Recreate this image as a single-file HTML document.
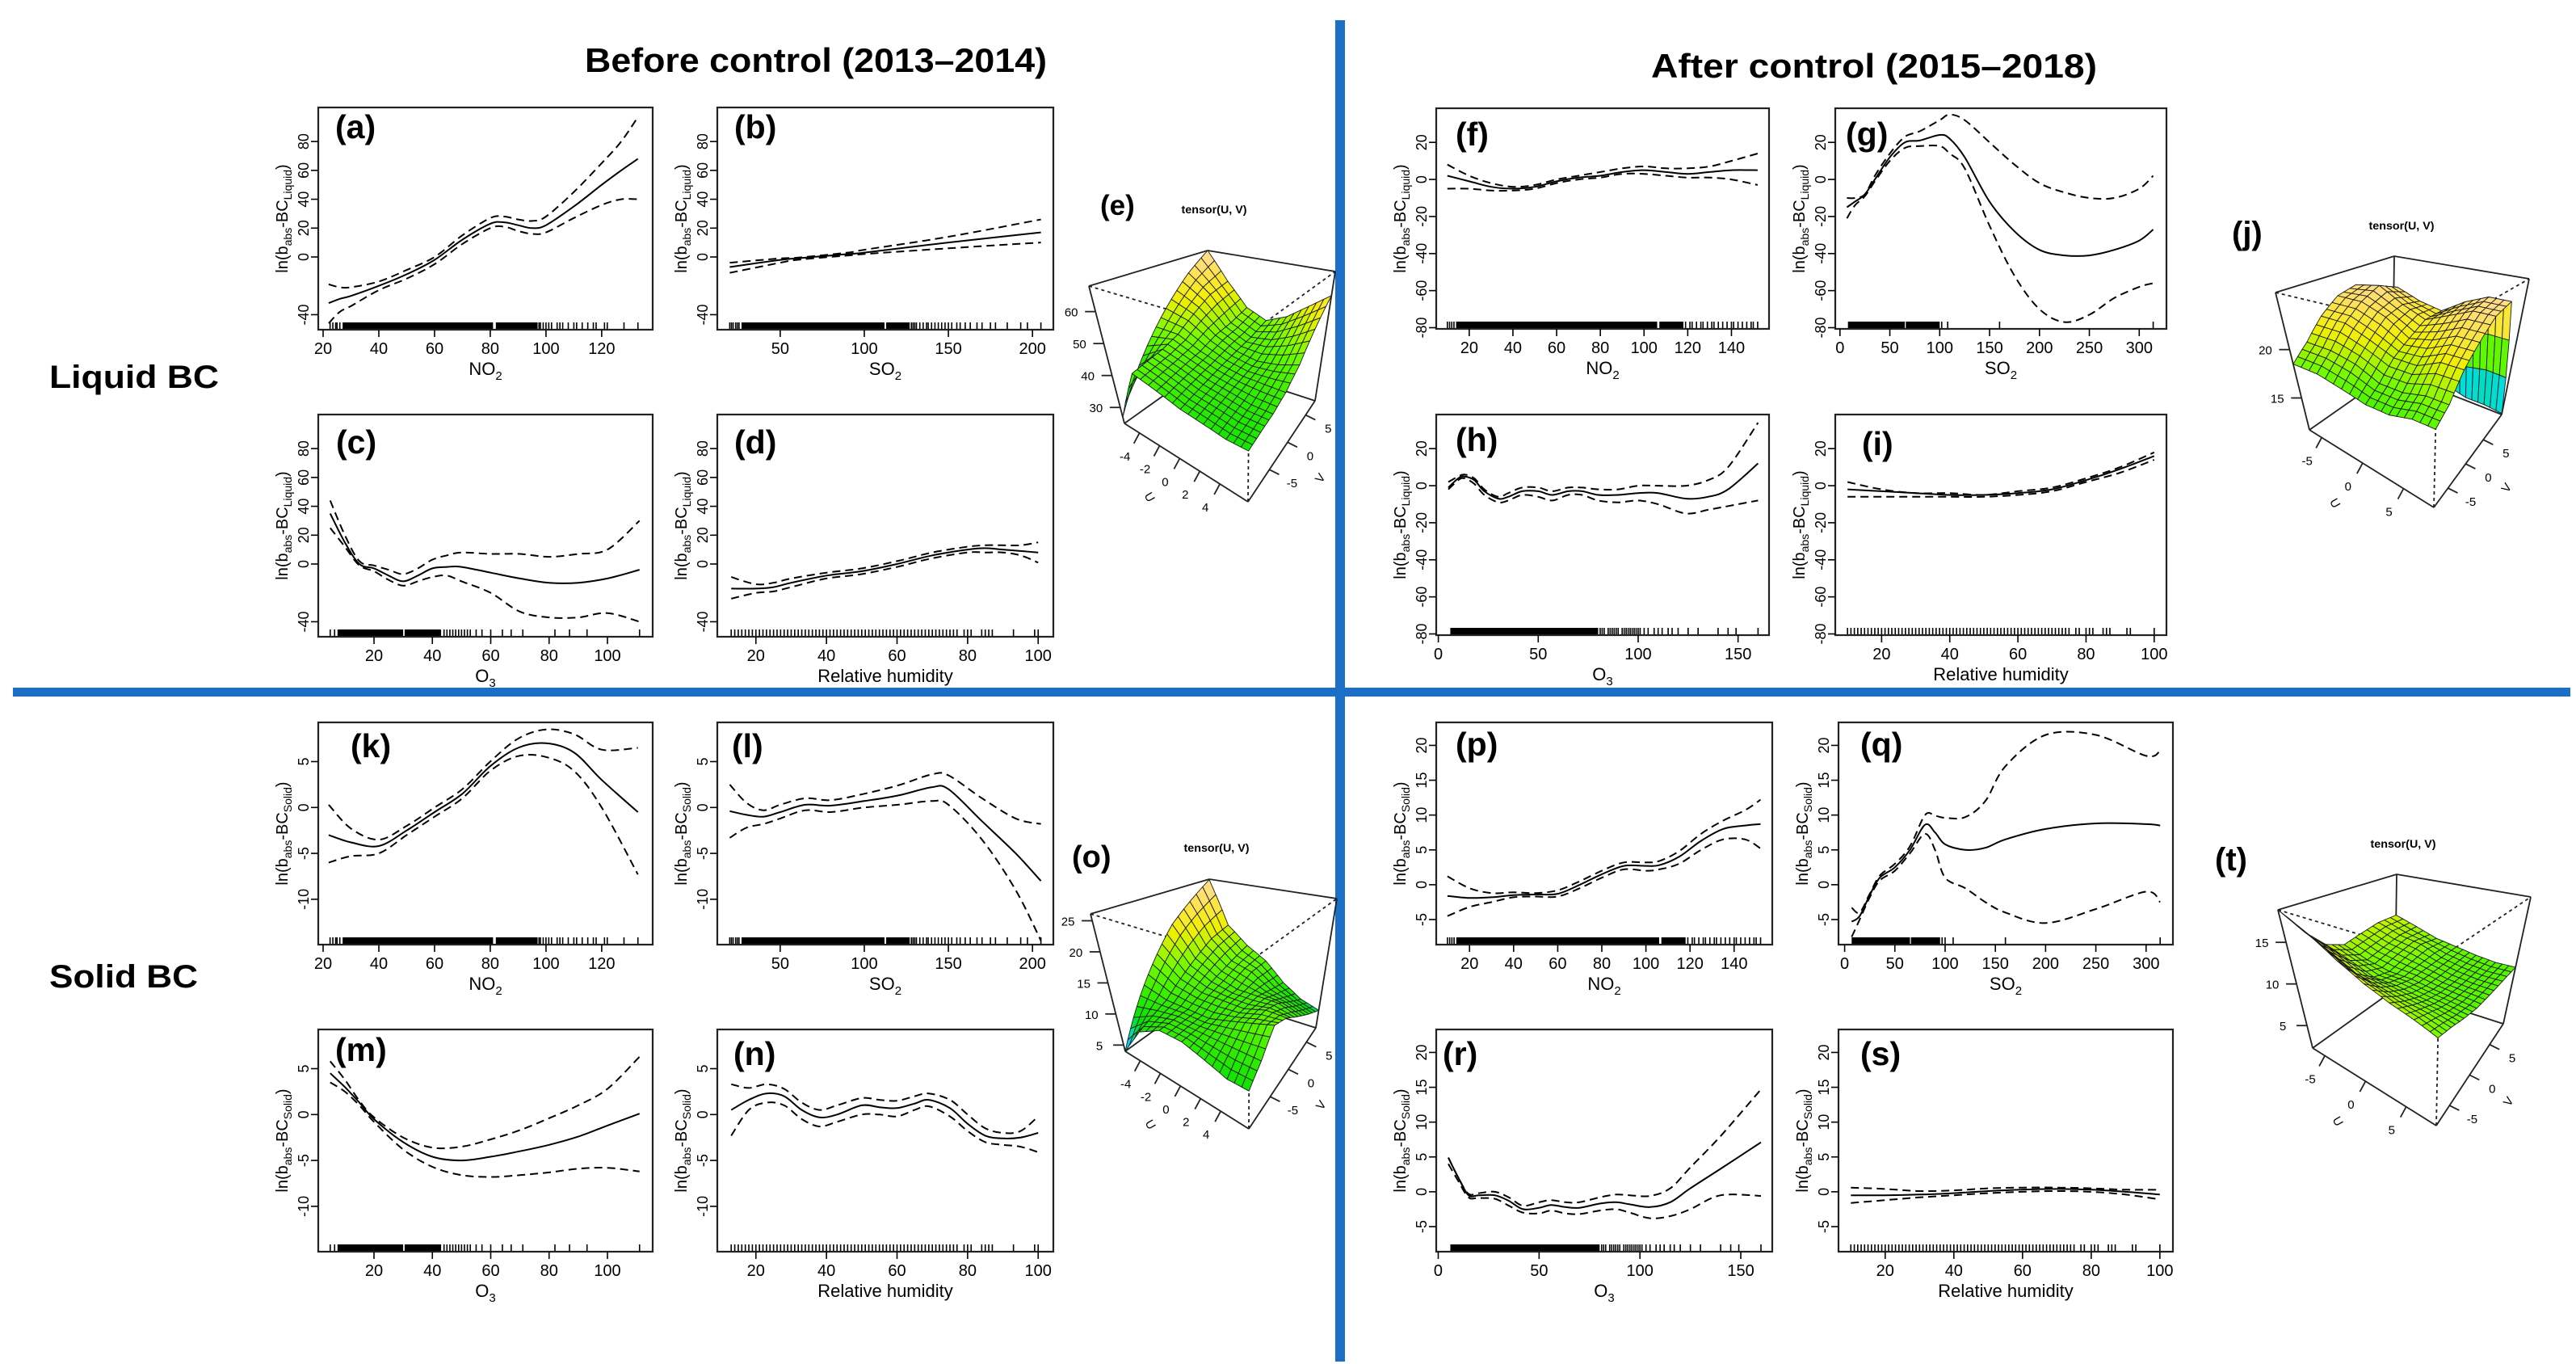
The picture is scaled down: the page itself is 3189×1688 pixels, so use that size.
<!DOCTYPE html>
<html><head><meta charset="utf-8"><style>
html,body{margin:0;padding:0;background:#fff;}
svg{display:block;}
text{font-family:"Liberation Sans Narrow","Liberation Sans",sans-serif;fill:#000;}
</style></head><body>
<svg id="fig" xmlns="http://www.w3.org/2000/svg" width="3189" height="1688" viewBox="0 0 3189 1688">
<rect x="0" y="0" width="3189" height="1688" fill="#fff"/>
<rect x="1653" y="25" width="12" height="1660" fill="#1b6fc6"/>
<rect x="16" y="851" width="3166" height="11" fill="#1b6fc6"/>
<text x="724" y="89" font-size="42" font-weight="bold" textLength="572" lengthAdjust="spacingAndGlyphs">Before control (2013–2014)</text>
<text x="2044" y="96" font-size="42" font-weight="bold" textLength="552" lengthAdjust="spacingAndGlyphs">After control (2015–2018)</text>
<text x="61" y="480" font-size="40" font-weight="bold" textLength="210" lengthAdjust="spacingAndGlyphs">Liquid BC</text>
<text x="61" y="1222" font-size="40" font-weight="bold" textLength="184" lengthAdjust="spacingAndGlyphs">Solid BC</text>
</svg>
<script>
// ---------- data ----------
const aX=[22,26,30,40,50,60,70,80,85,90,95,100,110,120,127,133];
const aFit=[-32,-29,-27,-20,-12,-2,12,23,24,22,20,22,35,50,60,68];
const aHi=[-19,-21,-21,-17,-9,0,15,27,28,26,25,28,45,65,80,97];
const aLo=[-46,-38,-34,-23,-15,-5,9,20,21,18,16,17,27,36,40,40];
const bX=[20,50,60,90,100,150,205];
const bFit=[-7,-2,-1,2,3,10,17];
const bHi=[-4,-1,-0.5,3,5,14,26];
const bLo=[-11,-4,-2,1,2,6,10];
const cX=[5,10,15,20,25,30,35,40,45,50,60,70,80,90,100,111];
const cFit=[35,15,0,-3,-8,-12,-8,-3,-2,-2,-6,-10,-13,-13,-10,-4];
const cHi=[44,20,2,-1,-4,-7,-3,3,6,8,7,7,5,7,10,30];
const cLo=[25,12,-1,-5,-11,-15,-12,-9,-8,-12,-20,-33,-37,-37,-34,-40];
const dX=[13,20,25,30,40,50,60,70,80,85,90,95,100];
const dFit=[-17,-17,-16,-13,-8,-5,0,6,10,11,10,9,8];
const dHi=[-9,-14,-13,-10,-6,-3,2,8,12,13,13,13,15];
const dLo=[-24,-20,-19,-16,-10,-7,-2,4,8,8,8,6,1];
const fX=[10,20,30,40,50,60,70,80,90,100,110,120,130,140,152];
const fFit=[2,-1,-4,-5,-4,-1,1,2,4,5,4,3,4,5,5];
const fHi=[8,2,-2,-4,-3,0,2,4,6,7,6,6,7,10,14];
const fLo=[-5,-5,-6,-6,-5,-2,0,1,3,3,2,1,1,0,-3];
const gX=[7,15,25,35,50,65,80,100,110,125,150,175,200,225,250,275,300,314];
const gFit=[-15,-12,-8,0,12,20,21,24,22,12,-12,-28,-38,-41,-41,-38,-33,-27];
const gHi=[-10,-10,-8,2,14,23,26,32,35,32,20,8,-2,-7,-10,-10,-5,2];
const gLo=[-21,-14,-9,-1,10,17,18,18,14,6,-25,-52,-70,-77,-73,-64,-58,-56];
const hX=[5,10,13,18,23,30,35,42,50,57,65,72,80,90,100,110,124,135,145,160];
const hFit=[-1,4,5,3,-3,-7,-6,-3,-3,-5,-3,-3,-5,-5,-4,-4,-7,-6,-2,12];
const hHi=[2,5,6,4,-2,-6,-4,-1,-1,-3,-1,-1,-2,-2,0,0,0,3,10,34];
const hLo=[-2,3,4,1,-5,-9,-8,-5,-6,-8,-5,-5,-8,-9,-8,-10,-15,-13,-11,-8];
const iX=[10,20,30,40,50,60,70,80,90,100];
const iFit=[-2,-3,-4,-5,-5,-4,-2,3,9,16];
const iHi=[2,-2,-4,-4,-5,-3,-1,4,10,18];
const iLo=[-6,-6,-6,-6,-6,-5,-3,2,7,14];
const kX=[22,30,40,50,60,70,80,90,100,110,120,133];
const kFit=[-3,-3.8,-4.2,-2.5,-0.5,1.5,4.5,6.5,7,6,3,-0.5];
const kHi=[0.3,-2.3,-3.5,-2,0,2,5,7.5,8.5,8,6.3,6.5];
const kLo=[-6,-5.3,-5,-3,-1,1,4,5.6,5.5,4,0,-7.3];
const lX=[20,30,40,50,65,80,100,120,140,150,170,190,205];
const lFit=[-0.4,-0.8,-1,-0.5,0.3,0.2,0.7,1.3,2.2,2,-1.5,-5,-8];
const lHi=[2.5,0.5,-0.3,0.3,1,0.8,1.5,2.4,3.6,3.5,1,-1.2,-1.8];
const lLo=[-3.3,-2.2,-1.8,-1.2,-0.3,-0.5,0,0.3,0.7,0.3,-3.5,-9,-14.5];
const mX=[5,10,15,20,30,40,50,60,70,80,90,100,111];
const mFit=[4.5,3,1.3,-0.5,-3,-4.6,-5,-4.6,-4,-3.3,-2.4,-1.2,0.1];
const mHi=[5.8,3.8,1.5,-0.3,-2.5,-3.6,-3.5,-2.7,-1.7,-0.4,1,2.8,6.3];
const mLo=[3.5,2.5,1,-0.8,-3.8,-5.7,-6.6,-6.8,-6.6,-6.3,-5.9,-5.8,-6.2];
const nX=[13,18,23,28,33,38,43,50,55,60,65,69,75,80,85,90,95,100];
const nFit=[0.5,1.6,2.3,2,0.5,-0.3,0,1,0.8,0.7,1.2,1.6,0.7,-1,-2.3,-2.6,-2.5,-2];
const nHi=[3.3,2.9,3.3,2.8,1.3,0.5,1,1.8,1.6,1.5,2,2.3,1.6,0,-1.5,-2,-1.8,-0.2];
const nLo=[-2.3,0.5,1.3,1,-0.5,-1.3,-0.8,0,0,-0.2,0.5,0.9,-0.2,-1.8,-3,-3.3,-3.5,-4.1];
const pX=[10,20,30,40,50,60,70,80,90,100,106,115,125,135,145,152];
const pFit=[-1.6,-1.9,-1.8,-1.5,-1.4,-1.3,0,1.5,2.7,2.7,2.8,4,6.3,8,8.5,8.7];
const pHi=[1.2,-0.5,-1.2,-1.1,-1.2,-0.8,0.5,2,3.2,3.2,3.4,4.8,7.3,9.2,10.7,12.2];
const pLo=[-4.5,-3.2,-2.5,-1.8,-1.7,-1.7,-0.5,1,2.2,2,2.2,3,5,6.5,6.5,5.2];
const qX=[7,15,25,35,50,65,80,90,100,120,140,160,200,250,300,314];
const qFit=[-5.3,-4.5,-1.5,1,2.5,5,8.6,7.5,5.8,5,5.3,6.5,8,8.8,8.7,8.5];
const qHi=[-3.3,-4,-1.3,1.3,3,5.5,10,9.9,9.6,9.7,12,17,21.5,21.5,18.5,19.2];
const qLo=[-7.5,-5,-1.8,0.6,2,4.5,7.3,5,1,-0.5,-2.5,-4,-5.5,-3.5,-1,-2.5];
const rX=[5,10,15,20,28,35,42,50,56,63,70,80,88,95,105,115,125,140,160];
const rFit=[4.9,2,-0.5,-0.5,-0.5,-1.3,-2.5,-2.3,-1.9,-2.2,-2.3,-1.7,-1.5,-1.8,-2.2,-1.5,0.5,3.3,7.1];
const rHi=[4.9,2,-0.3,-0.2,0,-0.8,-2,-1.5,-1.2,-1.5,-1.5,-0.8,-0.4,-0.5,-0.6,0.5,3.5,8,14.7];
const rLo=[4,1.5,-0.8,-0.9,-1,-2,-3,-3.1,-2.7,-3.1,-3.2,-2.7,-2.5,-3,-3.8,-3.5,-2.5,-0.5,-0.6];
const sX=[10,20,30,40,50,60,70,80,90,100];
const sFit=[-0.5,-0.5,-0.4,-0.2,0.1,0.3,0.4,0.3,0,-0.4];
const sHi=[0.6,0.4,0.1,0.2,0.5,0.6,0.6,0.5,0.3,0.3];
const sLo=[-1.6,-1.2,-0.8,-0.5,-0.2,0,0.1,0,-0.4,-1.1];

// rug data
const rugNO2Before=[22.5,23.5,24.5,25,26,97.5,98,99,100,101,102,104,105,106,108,110,111,113,115,117,118,121,122,128,133];
const rugSO2Before=[20,21,22,23.5,24.5,25.5,128,129,130,131,133,135,137,138,140,142,144,146,148,150,152,155,157,160,163,167,170,175,178,185,193,197,205];
const rugO3Before=[5,6.5,44,45,46,47,48,49,50,51,52,53,55,57,60,64,67,71,82,87,93,111];
const rugRHBefore=[76,77,79,80,81,84,85,86,87,93,99,100];
const rugNO2After=[10,11,12,13,119,121,122,124,126,127,129,131,132,134,136,138,140,141,143,145,147,149,150,152];
const rugSO2AfterL=[102,108,160,314];
const rugSO2AfterS=[97,100,108,160,314];
const rugO3After=[81,82,83,85,86,87,88,89,90,92,93,94,95,96,97,98,99,100,101,103,105,108,110,112,115,117,120,125,130,140,145,149,160];
const rugRHAfter=[77,78,80,81,82,85,86,87,92,93,100];

// tick labels
const ticksYTopLeft=[-40,0,20,40,60,80];
const ticksYTopRight=[-80,-60,-40,-20,0,20];
const ticksYBotLeft=[-10,-5,0,5];
const ticksYBotRight=[-5,0,5,10,15,20];
const ticksNO2Before=[20,40,60,80,100,120];
const ticksSO2Before=[50,100,150,200];
const ticksO3Before=[20,40,60,80,100];
const ticksRH=[20,40,60,80,100];
const ticksNO2After=[20,40,60,80,100,120,140];
const ticksSO2After=[0,50,100,150,200,250,300];
const ticksO3After=[0,50,100,150];

// 3D surface grids (rows: U from min to max, cols: V from min to max)
const eGrid=[[27,34,41,48,55,62,68],[44,45,46,48,52,56,58],[42,43,44,45,47,48,50],[40,41,42,43,44,45,47],[39,40,41,42,43,46,50],[38,39,40,42,44,49,55],[38,39,40,42,46,53,60]];
const jGrid=[[18.5,20,22,23.5,24,23,14],[18.5,20,22,23.5,24.5,23.5,14],[18,19.5,21,22.5,23,22.5,13],[17.5,18.5,20,21,22,22,12.5],[17.5,18.5,20,21.5,23,23.5,12],[18,19,21,22.5,24,24.5,12],[18,19,21,22.5,24,24.5,11.8]];
const oGrid=[[4,8,12,16,20,23,26],[9,10,11,13,15,17,18],[11,11,11,12,13,14,15],[11,11,11,12,12,13,13],[10,11,12,12,12,11,10],[9,11,13,13,12,10,8],[9,11,14,13,11,9,7]];
const tGrid=[[18.9,15.5,13,12,12.5,13,13],[17,14,12,11,11.5,12,12],[15,12.5,11,10.5,11,11.5,11],[13.5,12,11,10.5,10.5,10.5,10.5],[12.5,11.5,10.7,10.2,10,10,10],[11.8,11.2,10.5,10,9.8,9.7,9.7],[11,10.7,10.2,9.8,9.7,9.7,9.7]];
const uTicksBefore=[-4,-2,0,2,4];
const uTicksAfter=[-5,0,5];
const vTicks=[-5,0,5];
const zTicksE=[30,40,50,60];
const zTicksO=[5,10,15,20,25];
const zTicksJ=[15,20];
const zTicksT=[5,10,15];

// ---------- rendering ----------
const NS='http://www.w3.org/2000/svg';
const svg=document.getElementById('fig');
function mk(tag,attrs,parent){const e=document.createElementNS(NS,tag);for(const k in attrs)e.setAttribute(k,attrs[k]);parent.appendChild(e);return e;}
function smoothPath(pts){
  let d='M'+pts[0][0].toFixed(1)+','+pts[0][1].toFixed(1);
  for(let i=0;i<pts.length-1;i++){
    const p0=pts[Math.max(0,i-1)],p1=pts[i],p2=pts[i+1],p3=pts[Math.min(pts.length-1,i+2)];
    const c1=[p1[0]+(p2[0]-p0[0])/6,p1[1]+(p2[1]-p0[1])/6];
    const c2=[p2[0]-(p3[0]-p1[0])/6,p2[1]-(p3[1]-p1[1])/6];
    d+=' C'+c1[0].toFixed(1)+','+c1[1].toFixed(1)+' '+c2[0].toFixed(1)+','+c2[1].toFixed(1)+' '+p2[0].toFixed(1)+','+p2[1].toFixed(1);
  }
  return d;
}
const YL={liq:'ln(b<tspan font-size="14" dy="5">abs</tspan><tspan dy="-5">-BC</tspan><tspan font-size="14" dy="5">Liquid</tspan><tspan dy="-5">)</tspan>',
          sol:'ln(b<tspan font-size="14" dy="5">abs</tspan><tspan dy="-5">-BC</tspan><tspan font-size="14" dy="5">Solid</tspan><tspan dy="-5">)</tspan>'};
const XL={NO2:'NO<tspan font-size="15" dy="6">2</tspan>',SO2:'SO<tspan font-size="15" dy="6">2</tspan>',O3:'O<tspan font-size="15" dy="6">3</tspan>',RH:'Relative humidity'};

function drawPanel(c){
  const g=mk('g',{},svg);
  
  
  const [x0,y0,x1,y1]=c.box;
  const sx=v=>x0+(v-c.xd[0])/(c.xd[1]-c.xd[0])*(x1-x0);
  const sy=v=>y1-(v-c.yd[0])/(c.yd[1]-c.yd[0])*(y1-y0);
  const rug=mk('g',{stroke:'#000','stroke-width':1.6},g);
  
  
  (c.dense||[]).forEach(r=>{const e=mk('rect',{x:sx(r[0]),y:y1-9,width:sx(r[1])-sx(r[0]),height:9,fill:'#000',stroke:'none'},rug);
    
    });
  if(c.hatch){for(let v=c.hatch[0];v<=c.hatch[1];v+=1){const e=mk('line',{x1:sx(v),x2:sx(v),y1:y1-9,y2:y1},rug);
    
    }}
  c.rug.forEach(v=>{const e=mk('line',{x1:sx(v),x2:sx(v),y1:y1-9,y2:y1},rug);
    
    });
  const series=[['fit',c.fit,'none'],['upper-ci',c.hi,'10 6'],['lower-ci',c.lo,'10 6']];
  series.forEach(s=>{
    const pts=c.x.map((v,i)=>[sx(v),sy(s[1][i])]);
    const p=mk('path',{d:smoothPath(pts),fill:'none',stroke:'#000','stroke-width':2,'stroke-dasharray':s[2]},g);
    
    
  });
  const box=mk('rect',{x:x0,y:y0,width:x1-x0,height:y1-y0,fill:'none',stroke:'#222','stroke-width':2.2},g);
  
  
  c.xt.forEach(v=>{
    const t=mk('line',{x1:sx(v),x2:sx(v),y1:y1,y2:y1+9,stroke:'#000','stroke-width':1.6},g);
    
    
    const l=mk('text',{x:sx(v),y:y1+30,'font-size':20,'text-anchor':'middle'},g);
    l.textContent=v;
    
    
  });
  c.yt.forEach(v=>{
    const t=mk('line',{x1:x0-9,x2:x0,y1:sy(v),y2:sy(v),stroke:'#000','stroke-width':1.6},g);
    
    
    const l=mk('text',{x:x0-12,y:sy(v),'font-size':18,'text-anchor':'middle',transform:'rotate(-90 '+(x0-12)+' '+sy(v)+')'},g);
    l.textContent=v;
    
    
  });
  const cy=(y0+y1)/2;
  const yt=mk('text',{x:x0-38,y:cy,'font-size':20,'text-anchor':'middle',transform:'rotate(-90 '+(x0-38)+' '+cy+')'},g);
  yt.innerHTML=YL[c.yl];
  
  
  const xt=mk('text',{x:(x0+x1)/2,y:y1+56,'font-size':22,'text-anchor':'middle'},g);
  xt.innerHTML=XL[c.xl];
  
  
  const lt=mk('text',{x:x0+c.lx,y:y0+c.ly+30,'font-size':41,'font-weight':'bold'},g);
  lt.textContent='('+c.id+')';
  
  
}

const TL=[-50.4,103.6],TR=[-80.65,38.4],BL=[-14.94,9.27],BR=[-8.6,23.3];
const panels=[
 {id:'a',box:[394,133,808,408],xd:[18.26,138.3],yd:TL,x:aX,fit:aFit,hi:aHi,lo:aLo,xt:ticksNO2Before,yt:ticksYTopLeft,xl:'NO2',yl:'liq',dense:[[27,81],[82,97]],rug:rugNO2Before,lx:21,ly:8},
 {id:'b',box:[888,133,1304,408],xd:[12.6,212.4],yd:TL,x:bX,fit:bFit,hi:bHi,lo:bLo,xt:ticksSO2Before,yt:ticksYTopLeft,xl:'SO2',yl:'liq',dense:[[27,112],[113,127]],rug:rugSO2Before,lx:21,ly:8},
 {id:'c',box:[394,513,808,788],xd:[0.9,115.5],yd:TL,x:cX,fit:cFit,hi:cHi,lo:cLo,xt:ticksO3Before,yt:ticksYTopLeft,xl:'O3',yl:'liq',dense:[[7.5,30],[30.5,43]],rug:rugO3Before,lx:22,ly:18},
 {id:'d',box:[888,513,1304,788],xd:[9.06,104.3],yd:TL,x:dX,fit:dFit,hi:dHi,lo:dLo,xt:ticksRH,yt:ticksYTopLeft,xl:'RH',yl:'liq',hatch:[13,75],rug:rugRHBefore,lx:21,ly:18},
 {id:'f',box:[1778,134,2190,407],xd:[4.9,157.2],yd:TR,x:fX,fit:fFit,hi:fHi,lo:fLo,xt:ticksNO2After,yt:ticksYTopRight,xl:'NO2',yl:'liq',dense:[[14,106],[107,118]],rug:rugNO2After,lx:24,ly:16},
 {id:'g',box:[2272,134,2682,407],xd:[-4.7,327.3],yd:TR,x:gX,fit:gFit,hi:gHi,lo:gLo,xt:ticksSO2After,yt:ticksYTopRight,xl:'SO2',yl:'liq',dense:[[8,65],[66,100]],rug:rugSO2AfterL,lx:13,ly:16},
 {id:'h',box:[1778,513,2190,786],xd:[-1.05,165.5],yd:TR,x:hX,fit:hFit,hi:hHi,lo:hLo,xt:ticksO3After,yt:ticksYTopRight,xl:'O3',yl:'liq',dense:[[6,80]],rug:rugO3After,lx:24,ly:15},
 {id:'i',box:[2272,513,2682,786],xd:[6.4,103.6],yd:TR,x:iX,fit:iFit,hi:iHi,lo:iLo,xt:ticksRH,yt:ticksYTopRight,xl:'RH',yl:'liq',hatch:[10,75],rug:rugRHAfter,lx:33,ly:20},
 {id:'k',box:[394,894,808,1169],xd:[18.26,138.3],yd:BL,x:kX,fit:kFit,hi:kHi,lo:kLo,xt:ticksNO2Before,yt:ticksYBotLeft,xl:'NO2',yl:'sol',dense:[[27,81],[82,97]],rug:rugNO2Before,lx:40,ly:13},
 {id:'l',box:[888,894,1304,1169],xd:[12.6,212.4],yd:BL,x:lX,fit:lFit,hi:lHi,lo:lLo,xt:ticksSO2Before,yt:ticksYBotLeft,xl:'SO2',yl:'sol',dense:[[27,112],[113,127]],rug:rugSO2Before,lx:18,ly:13},
 {id:'m',box:[394,1274,808,1549],xd:[0.9,115.5],yd:BL,x:mX,fit:mFit,hi:mHi,lo:mLo,xt:ticksO3Before,yt:ticksYBotLeft,xl:'O3',yl:'sol',dense:[[7.5,30],[30.5,43]],rug:rugO3Before,lx:21,ly:9},
 {id:'n',box:[888,1274,1304,1549],xd:[9.06,104.3],yd:BL,x:nX,fit:nFit,hi:nHi,lo:nLo,xt:ticksRH,yt:ticksYBotLeft,xl:'RH',yl:'sol',hatch:[13,75],rug:rugRHBefore,lx:20,ly:14},
 {id:'p',box:[1778,894,2194,1169],xd:[4.9,157.3],yd:BR,x:pX,fit:pFit,hi:pHi,lo:pLo,xt:ticksNO2After,yt:ticksYBotRight,xl:'NO2',yl:'sol',dense:[[14,106],[107,118]],rug:rugNO2After,lx:24,ly:11},
 {id:'q',box:[2276,894,2690,1169],xd:[-6.1,326.7],yd:BR,x:qX,fit:qFit,hi:qHi,lo:qLo,xt:ticksSO2After,yt:ticksYBotRight,xl:'SO2',yl:'sol',dense:[[7,65],[66,95]],rug:rugSO2AfterS,lx:27,ly:11},
 {id:'r',box:[1778,1274,2194,1549],xd:[-1.0,165.6],yd:BR,x:rX,fit:rFit,hi:rHi,lo:rLo,xt:ticksO3After,yt:ticksYBotRight,xl:'O3',yl:'sol',dense:[[6,80]],rug:rugO3After,lx:8,ly:14},
 {id:'s',box:[2276,1274,2690,1549],xd:[6.4,103.8],yd:BR,x:sX,fit:sFit,hi:sHi,lo:sLo,xt:ticksRH,yt:ticksYBotRight,xl:'RH',yl:'sol',hatch:[10,75],rug:rugRHAfter,lx:27,ly:14}
];
panels.forEach(drawPanel);

// ---------- 3D surfaces ----------
const cstops=[[0,[0,0,190]],[0.12,[0,80,255]],[0.22,[0,220,255]],[0.32,[0,225,0]],[0.55,[110,250,0]],[0.72,[240,240,0]],[0.87,[255,225,90]],[1,[255,218,165]]];
function cmap(f){f=Math.max(0,Math.min(1,f));for(let i=1;i<cstops.length;i++){if(f<=cstops[i][0]){const a=cstops[i-1],b=cstops[i],t=(f-a[0])/(b[0]-a[0]);return 'rgb('+a[1].map((v,k)=>Math.round(v+(b[1][k]-v)*t)).join(',')+')';}}return 'rgb(255,218,165)';}
function bl(P,a,b){return [P.L[0]*(1-a)*(1-b)+P.F[0]*a*(1-b)+P.R[0]*a*b+P.B[0]*(1-a)*b, P.L[1]*(1-a)*(1-b)+P.F[1]*a*(1-b)+P.R[1]*a*b+P.B[1]*(1-a)*b];}
function draw3D(c){
  const g=mk('g',{},svg);
  
  
  const proj=(a,b,z)=>{const t=(z-c.zd[0])/(c.zd[1]-c.zd[0]);const p=bl(c.bot,a,b),q=bl(c.top,a,b);return [p[0]+(q[0]-p[0])*t,p[1]+(q[1]-p[1])*t];};
  const ln=(p,q,dash,name)=>{const e=mk('line',{x1:p[0],y1:p[1],x2:q[0],y2:q[1],stroke:'#222','stroke-width':1.8,'stroke-dasharray':dash||'none'},g);
    
    };
  const B=c.bot,T=c.top;
  ln(T.L,T.B,null,'box-edge');ln(T.B,T.R,null,'box-edge');
  ln(T.L,T.F,'4 4','box-hidden-edge');ln(T.F,T.R,'4 4','box-hidden-edge');ln(B.F,T.F,'4 4','box-hidden-edge');
  ln(B.L,B.B,null,'box-edge');ln(B.B,B.R,null,'box-edge');ln(T.B,B.B,null,'box-edge');
  const G=c.grid,n=G.length-1,S=3,N=n*S;
  const zAt=(a,b)=>{const fa=a*n,fb=b*n;const i=Math.min(n-1,Math.floor(fa)),j=Math.min(n-1,Math.floor(fb));const u=fa-i,v=fb-j;
    return G[i][j]*(1-u)*(1-v)+G[i+1][j]*u*(1-v)+G[i+1][j+1]*u*v+G[i][j+1]*(1-u)*v;};
  const quads=[];
  for(let i=0;i<N;i++)for(let j=0;j<N;j++){const a0=i/N,a1=(i+1)/N,b0=j/N,b1=(j+1)/N;
    const zs=[zAt(a0,b0),zAt(a1,b0),zAt(a1,b1),zAt(a0,b1)];
    quads.push({k:(a0+a1)/2+(1-(b0+b1)/2),pts:[proj(a0,b0,zs[0]),proj(a1,b0,zs[1]),proj(a1,b1,zs[2]),proj(a0,b1,zs[3])],z:(zs[0]+zs[1]+zs[2]+zs[3])/4});}
  quads.sort((p,q)=>p.k-q.k);
  const sg=mk('g',{stroke:'#1a1a1a','stroke-width':0.9,'stroke-linejoin':'round'},g);
  
  
  quads.forEach(q=>{const e=mk('polygon',{points:q.pts.map(p=>p[0].toFixed(1)+','+p[1].toFixed(1)).join(' '),fill:cmap((q.z-c.cr[0])/(c.cr[1]-c.cr[0]))},sg);
    
    });
  ln(B.L,B.F,null,'box-edge');ln(B.F,B.R,null,'box-edge');ln(B.L,T.L,null,'box-edge');ln(B.R,T.R,null,'box-edge');
  const txt=(x,y,s,fs,extra,name)=>{const e=mk('text',Object.assign({x:x,y:y,'font-size':fs,'text-anchor':'middle'},extra||{}),g);e.textContent=s;
    
    return e;};
  c.ut.forEach(u=>{const a=(u-c.ur[0])/(c.ur[1]-c.ur[0]);const p=bl(B,a,0);ln(p,[p[0]-7,p[1]+13],null,'u-tick');txt(p[0]-18,p[1]+34,u,15,null,'u-tick-label');});
  c.vt.forEach(v=>{const b=(v-c.vr[0])/(c.vr[1]-c.vr[0]);const p=bl(B,1,b);ln(p,[p[0]+12,p[1]+6],null,'v-tick');txt(p[0]+28,p[1]+22,v,15,null,'v-tick-label');});
  c.zt.forEach(z=>{const p=proj(0,0,z);ln(p,[p[0]-13,p[1]],null,'z-tick');txt(p[0]-30,p[1]+6,z,15,null,'z-tick-label');});
  const mu=bl(B,0.45,0);txt(mu[0]-42,mu[1]+50,'U',15,{transform:'rotate(60 '+(mu[0]-42)+' '+(mu[1]+50)+')'},'u-axis-title');
  const mv=bl(B,1,0.5);txt(mv[0]+52,mv[1]+36,'V',15,{transform:'rotate(-55 '+(mv[0]+52)+' '+(mv[1]+36)+')'},'v-axis-title');
  txt(c.title[0],c.title[1],'tensor(U, V)',14,{'font-weight':'bold',textLength:81,lengthAdjust:'spacingAndGlyphs'},'surface-title');
  const lt=mk('text',{x:c.lab[0],y:c.lab[1],'font-size':c.lab[2],'font-weight':'bold'},g);
  lt.textContent='('+c.id+')';
  
  
}
const surfaces=[
 {id:'e',grid:eGrid,zd:[25,68],cr:[21,68],bot:{L:[1392,524],F:[1545,621],R:[1628,496],B:[1493,452]},top:{L:[1348,354],F:[1547,413],R:[1653,336],B:[1495,310]},ur:[-5.5,6.8],vr:[-10.9,7.6],ut:uTicksBefore,vt:vTicks,zt:zTicksE,title:[1503,264],lab:[1362,266,35]},
 {id:'j',grid:jGrid,zd:[11.7,25.9],cr:[10.5,25.2],bot:{L:[2859,532],F:[3013,628],R:[3097,513],B:[2962,460]},top:{L:[2817,362],F:[3018,410],R:[3131,345],B:[2964,317]},ur:[-6.5,8.7],vr:[-9,10.2],ut:uTicksAfter,vt:vTicks,zt:zTicksJ,title:[2973,284],lab:[2763,302,40]},
 {id:'o',grid:oGrid,zd:[4,26.1],cr:[0,26],bot:{L:[1393,1301],F:[1546,1397],R:[1629,1272],B:[1493,1229]},top:{L:[1350,1131],F:[1547,1190],R:[1655,1112],B:[1497,1088]},ur:[-5.5,6.8],vr:[-10.9,7.6],ut:uTicksBefore,vt:vTicks,zt:zTicksO,title:[1506,1054],lab:[1327,1073,38]},
 {id:'t',grid:tGrid,zd:[2.3,18.9],cr:[0,19.5],bot:{L:[2863,1297],F:[3016,1393],R:[3099,1267],B:[2965,1224]},top:{L:[2820,1126],F:[3020,1186],R:[3133,1110],B:[2967,1082]},ur:[-6.5,8.7],vr:[-8.3,8.4],ut:uTicksAfter,vt:vTicks,zt:zTicksT,title:[2975,1049],lab:[2742,1077,40]}
];
surfaces.forEach(draw3D);
</script>
</body></html>
